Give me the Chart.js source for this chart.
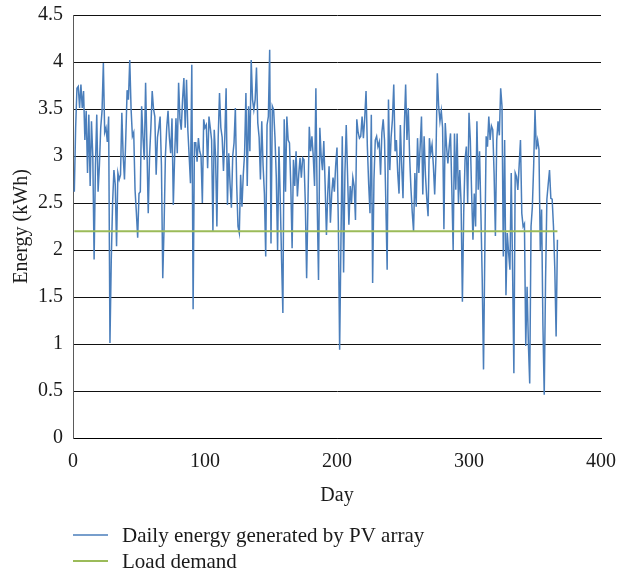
<!DOCTYPE html>
<html>
<head>
<meta charset="utf-8">
<title>Daily PV energy</title>
<script src="https://cdn.jsdelivr.net/npm/chart.js@4.4.1/dist/chart.umd.min.js"></script>
<style>
    html, body { margin: 0; padding: 0; background: #ffffff; }
    #pvChart { display: block; }
</style>
</head>
<body>
<canvas id="pvChart" width="632" height="576"></canvas>
<script>
// Daily energy generated by the PV array (kWh), day 1 onwards
const dailyEnergy = [
    2.62, 3.3, 3.72, 3.74, 3.51, 3.76, 3.51, 3.69, 3.17, 3.48,
    2.82, 3.44, 2.68, 3.37, 3.0, 1.90, 2.9, 3.44, 2.62, 2.9,
    3.3, 3.48, 3.99, 3.25, 3.3, 3.15, 3.42, 1.01, 1.9, 2.5,
    2.85, 2.7, 2.04, 2.82, 2.75, 2.8, 3.46, 3.0, 2.75, 3.2,
    3.7, 3.6, 4.02, 3.5, 3.21, 3.25, 2.64, 2.4, 2.13, 2.6,
    2.62, 3.53, 3.2, 2.96, 3.78, 3.1, 2.39, 3.0, 3.3, 3.69,
    3.5, 3.42, 2.8, 3.2, 3.3, 3.42, 2.9, 1.70, 2.25, 3.0,
    3.3, 3.48, 3.2, 3.03, 3.4, 2.48, 3.0, 3.4, 3.03, 3.78,
    3.4, 3.28, 3.6, 3.83, 3.3, 3.81, 3.28, 3.0, 2.71, 3.97,
    1.37, 3.14, 3.14, 2.94, 3.19, 3.05, 3.0, 2.5, 3.39, 3.3,
    3.33, 2.87, 3.42, 3.3, 3.17, 2.2, 3.28, 3.0, 2.25, 3.2,
    3.67, 3.3, 3.2, 2.84, 3.2, 3.72, 2.48, 3.03, 2.7, 2.45,
    3.0, 3.14, 3.51, 2.7, 2.25, 2.18, 2.8, 2.46, 2.8, 3.03,
    3.67, 2.68, 3.53, 3.05, 4.02, 3.6, 3.49, 3.6, 3.94, 3.35,
    3.2, 2.75, 3.37, 2.9, 2.6, 1.93, 3.33, 3.42, 4.13, 2.07,
    3.53, 3.49, 3.2, 2.78, 2.0, 3.1, 2.55, 1.9, 1.33, 3.39,
    2.62, 3.42, 3.17, 3.14, 2.68, 2.02, 2.96, 2.68, 3.05, 2.57,
    2.8, 2.98, 2.77, 2.98, 2.96, 2.5, 1.70, 2.5, 3.31, 3.05,
    3.21, 3.0, 2.68, 3.72, 2.5, 1.68, 3.3, 3.0, 2.85, 3.16,
    2.7, 2.16, 2.6, 2.89, 2.29, 2.6, 2.77, 2.62, 2.9, 3.09,
    2.3, 0.94, 2.1, 3.21, 1.76, 2.82, 3.33, 2.8, 2.27, 2.68,
    2.5, 2.77, 2.68, 2.32, 3.39, 3.25, 3.19, 3.21, 3.42, 3.19,
    3.4, 3.69, 3.1, 2.7, 2.39, 3.44, 1.65, 2.75, 3.17, 3.21,
    3.1, 3.15, 2.8, 3.25, 3.39, 3.17, 2.5, 1.79, 3.6, 2.85,
    3.2, 3.39, 3.76, 3.05, 3.17, 2.82, 2.6, 3.33, 2.9, 2.55,
    3.3, 3.76, 3.17, 3.51, 3.0, 2.66, 2.4, 2.2, 2.82, 2.46,
    3.19, 2.82, 3.1, 3.42, 2.59, 3.21, 2.8, 2.55, 2.36, 3.19,
    3.03, 3.12, 2.9, 2.59, 3.0, 3.88, 3.53, 3.37, 3.48, 3.3,
    2.22, 3.35, 3.1, 2.92, 3.1, 3.24, 2.64, 2.0, 3.24, 2.64,
    3.24, 2.5, 2.85, 2.5, 1.45, 2.4, 2.96, 3.1, 2.5, 3.46,
    3.17, 2.6, 2.11, 2.6, 2.25, 3.37, 2.64, 3.05, 2.4, 1.7,
    0.73, 2.0, 3.21, 3.1, 3.42, 3.17, 3.32, 3.28, 2.82, 2.15,
    3.17, 3.37, 3.22, 3.72, 3.53, 1.93, 3.17, 1.52, 2.18, 1.97,
    1.79, 2.82, 1.8, 0.69, 2.82, 2.78, 2.64, 2.9, 3.17, 2.39,
    2.25, 2.28, 0.98, 1.61, 1.0, 0.58, 2.25, 2.46, 2.9, 3.49,
    3.07, 3.17, 3.07, 2.0, 2.43, 1.2, 0.46, 1.68, 2.54, 2.7,
    2.85, 2.55, 2.54, 2.25, 1.8, 1.08, 2.11
];
const firstDay = 1;
const loadDemand = 2.2;

// Axis ticks
const dayTicks = [0, 100, 200, 300, 400];
const energyTicks = [0, 0.5, 1, 1.5, 2, 2.5, 3, 3.5, 4, 4.5];

const seriesLabels = ['Daily energy generated by PV array', 'Load demand'];
const seriesColors = ['#4a7ebb', '#9bbb59'];

const FONT = "'Liberation Serif', 'DejaVu Serif', serif";

// Build {x, y} points for the PV series
function energyPoints() {
    return dailyEnergy.map((v, i) => ({ x: firstDay + i, y: v }));
}

// Load demand spans the same days as the PV series
function loadPoints() {
    const lastDay = firstDay + dailyEnergy.length - 1;
    return [{ x: firstDay, y: loadDemand }, { x: lastDay, y: loadDemand }];
}

// Legend drawn as a vertical list below the plot
const stackedLegend = {
    id: 'stackedLegend',
    afterDraw(chart) {
        const ctx = chart.ctx;
        const left = chart.chartArea.left;
        ctx.save();
        ctx.font = '21px ' + FONT;
        ctx.textBaseline = 'middle';
        chart.data.datasets.forEach((ds, i) => {
            const y = 535 + i * 26;
            ctx.strokeStyle = ds.borderColor;
            ctx.lineWidth = ds.borderWidth;
            ctx.beginPath();
            ctx.moveTo(left, y);
            ctx.lineTo(left + 35, y);
            ctx.stroke();
            ctx.fillStyle = '#1a1a1a';
            ctx.fillText(ds.label, left + 49, y + 1);
        });
        ctx.restore();
    }
};

function initChart() {
    const ctx = document.getElementById('pvChart').getContext('2d');

    new Chart(ctx, {
        type: 'line',
        data: {
            datasets: [{
                label: seriesLabels[0],
                data: energyPoints(),
                borderColor: seriesColors[0],
                borderWidth: 1.5,
                pointRadius: 0,
                tension: 0,
                order: 1
            }, {
                label: seriesLabels[1],
                data: loadPoints(),
                borderColor: seriesColors[1],
                borderWidth: 2,
                pointRadius: 0,
                order: 0
            }]
        },
        options: {
            responsive: false,
            animation: false,
            layout: {
                padding: { top: 15, right: 31, bottom: 66, left: 0 }
            },
            plugins: {
                legend: { display: false },
                tooltip: { enabled: false }
            },
            scales: {
                x: {
                    type: 'linear',
                    min: dayTicks[0],
                    max: dayTicks[dayTicks.length - 1],
                    afterBuildTicks: (scale) => { scale.ticks = dayTicks.map(v => ({ value: v })); },
                    afterFit: (scale) => { scale.height = 72; },
                    grid: { display: false, drawTicks: false },
                    border: { display: true, color: '#000000', width: 1 },
                    ticks: {
                        padding: 12,
                        color: '#1a1a1a',
                        font: { family: FONT, size: 20 },
                        maxRotation: 0
                    },
                    title: {
                        display: true,
                        text: 'Day',
                        color: '#1a1a1a',
                        font: { family: FONT, size: 20 },
                        padding: { top: 4, bottom: 2 }
                    }
                },
                y: {
                    min: energyTicks[0],
                    max: energyTicks[energyTicks.length - 1],
                    afterBuildTicks: (scale) => { scale.ticks = energyTicks.map(v => ({ value: v })); },
                    afterFit: (scale) => {
                        scale.width = 73;
                        // let layout.padding.top decide where the plot starts
                        scale.paddingTop = 0;
                    },
                    grid: { color: '#111111', lineWidth: 1, drawTicks: false },
                    border: { display: true, color: '#5a5a5a', width: 1 },
                    ticks: {
                        padding: 10,
                        color: '#1a1a1a',
                        font: { family: FONT, size: 20 },
                        callback: (v) => String(v)
                    },
                    title: {
                        display: true,
                        text: 'Energy (kWh)',
                        color: '#1a1a1a',
                        font: { family: FONT, size: 20 },
                        padding: { top: 10, bottom: 0 }
                    }
                }
            }
        },
        plugins: [stackedLegend]
    });
}

document.addEventListener('DOMContentLoaded', () => {
    initChart();
});
</script>
</body>
</html>
